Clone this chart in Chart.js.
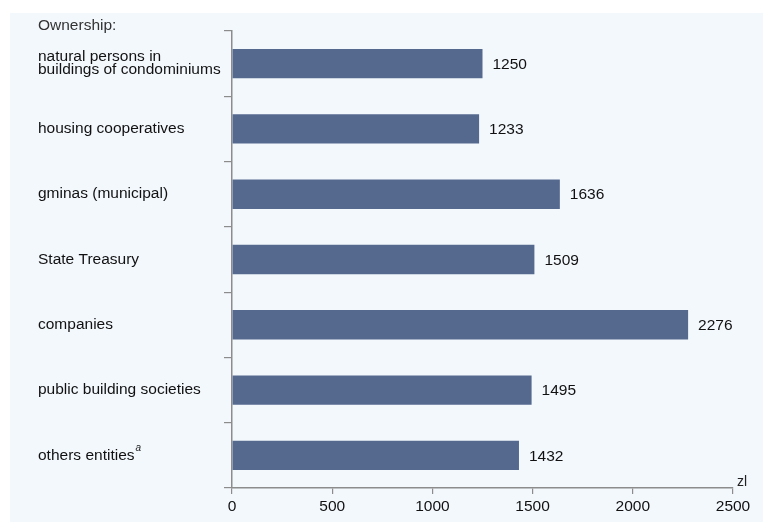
<!DOCTYPE html>
<html>
<head>
<meta charset="utf-8">
<script src="https://cdn.jsdelivr.net/npm/chart.js@4"></script>
<style>
  html, body { margin: 0; padding: 0; background: #ffffff; }
  #wrap { width: 763px; height: 522px; }
</style>
</head>
<body>
<div id="wrap"><canvas id="chart" width="763" height="522"></canvas></div>
<script>
// data
const categories = [
  ['natural persons in', 'buildings of condominiums'],
  'housing cooperatives',
  'gminas (municipal)',
  'State Treasury',
  'companies',
  'public building societies',
  'others entities',
];
const values = [1250, 1233, 1636, 1509, 2276, 1495, 1432];
const xTicks = [0, 500, 1000, 1500, 2000, 2500];
const axisHeading = 'Ownership:';
const unitLabel = 'zl';
const footnoteMark = 'a';

const FONT = '"Liberation Sans", Arial, sans-serif';
const FS = 15.5;
const TEXT = '#111111';
const AXIS = '#8c8c8c';

// light panel behind the chart
const panelPlugin = {
  id: 'panel',
  beforeDraw(chart) {
    const ctx = chart.ctx;
    ctx.save();
    ctx.fillStyle = '#ffffff';
    ctx.fillRect(0, 0, chart.width, chart.height);
    ctx.fillStyle = '#f3f8fd';
    ctx.fillRect(10, 13, chart.width - 10, chart.height - 13);
    ctx.restore();
  },
};

// value labels, heading, unit and footnote mark
const extrasPlugin = {
  id: 'extras',
  afterDatasetsDraw(chart) {
    const ctx = chart.ctx;
    const meta = chart.getDatasetMeta(0);
    const xs = chart.scales.x;
    const ys = chart.scales.y;
    ctx.save();
    ctx.fillStyle = TEXT;
    ctx.font = FS + 'px ' + FONT;
    ctx.textBaseline = 'middle';
    ctx.textAlign = 'left';
    meta.data.forEach((bar, i) => {
      ctx.fillText(String(values[i]), bar.x + 10, bar.y + 1);
    });

    // heading above the category labels
    ctx.textBaseline = 'alphabetic';
    ctx.fillStyle = '#333333';
    ctx.fillText(axisHeading, ys.left, 30);

    // unit at the end of the value axis
    ctx.fillStyle = '#222222';
    ctx.font = '14px ' + FONT;
    ctx.fillText(unitLabel, xs.getPixelForValue(2500) + 4, xs.top - 2);

    // superscript on the last category label
    const last = categories.length - 1;
    ctx.font = FS + 'px ' + FONT;
    const w = ctx.measureText(categories[last]).width;
    ctx.font = 'italic 10px ' + FONT;
    ctx.fillText(footnoteMark, ys.left + w + 1, ys.getPixelForValue(last) - 4);
    ctx.restore();
  },
};

new Chart(document.getElementById('chart'), {
  type: 'bar',
  data: {
    labels: categories,
    datasets: [{
      data: values,
      backgroundColor: '#55698e',
      borderWidth: 0,
      barPercentage: 0.45,
      categoryPercentage: 1,
    }],
  },
  options: {
    indexAxis: 'y',
    responsive: false,
    animation: false,
    layout: { padding: { left: 38, top: 31, right: 30, bottom: 0 } },
    plugins: {
      legend: { display: false },
      tooltip: { enabled: false },
    },
    scales: {
      x: {
        type: 'linear',
        min: 0,
        max: 2500,
        afterBuildTicks: (scale) => { scale.ticks = xTicks.map(v => ({ value: v })); },
        afterFit: (scale) => { scale.height = 34; },
        border: { display: true, color: AXIS, width: 1.5 },
        grid: { drawOnChartArea: false, drawTicks: true, tickLength: 6, color: AXIS, lineWidth: 1.2 },
        ticks: {
          color: TEXT,
          font: { family: FONT, size: FS },
          padding: 3,
          maxRotation: 0,
          callback: (v) => String(v),
        },
      },
      y: {
        afterFit: (scale) => { scale.width = 194; },
        border: { display: true, color: AXIS, width: 1.5 },
        grid: { drawOnChartArea: false, drawTicks: true, tickLength: 8, color: AXIS, lineWidth: 1.2, offset: true },
        ticks: {
          color: TEXT,
          crossAlign: 'far',
          font: { family: FONT, size: FS, lineHeight: 0.84 },
        },
      },
    },
  },
  plugins: [panelPlugin, extrasPlugin],
});
</script>
</body>
</html>
